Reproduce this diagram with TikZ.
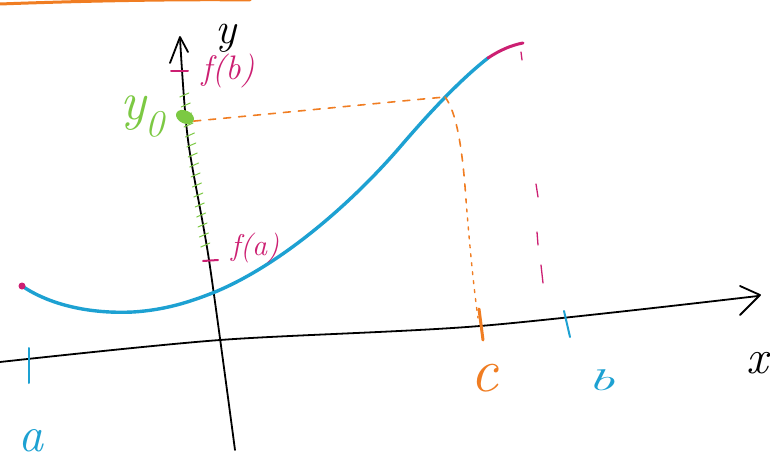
\documentclass[tikz,border=0pt]{standalone}
\usepackage{fontspec}
\usetikzlibrary{shapes.geometric}
\definecolor{hblue}{HTML}{1DA1D2}
\definecolor{hmag}{HTML}{CC1F72}
\definecolor{hgreen}{HTML}{7CC943}
\definecolor{horange}{HTML}{F07D22}
\begin{document}
\begin{tikzpicture}[x=1pt,y=-1pt,
  axis/.style={line width=1.8pt,line cap=round,line join=round,black},
  curve/.style={line width=3.4pt,line cap=round,hblue},
  magtick/.style={hmag,line width=2pt,line cap=round},
  magdash/.style={hmag,line width=1.3pt,line cap=round},
  guide/.style={horange,line width=1.6pt,line cap=round,dash pattern=on 7pt off 8pt},
  guidedot/.style={horange,line width=1.4pt,line cap=round,dash pattern=on 3pt off 6pt},
  hand/.style={inner sep=0pt,font=\fontsize{#1}{#1}\selectfont\itshape}]
\useasboundingbox (0,0) rectangle (770,462);
\fill[white] (0,0) rectangle (770,462);
% orange stroke at top
\draw[horange,line width=3pt,line cap=round] (0,4) .. controls (80,1) and (180,-1) .. (250,0);
% x axis
\coordinate (xtip) at (760,295);
\draw[axis] plot[smooth] coordinates {(0,362) (220,340) (480,326) (758,296)};
\draw[axis] (740,286) -- (xtip) -- (740,315);
% y axis
\coordinate (ytip) at (180,37);
\draw[axis] plot[smooth] coordinates {(180,38) (188,140) (209,260) (235,450)};
\draw[axis] (170,63) -- (ytip) -- (188,52);
% green ticks on y axis
\foreach \t in {0,...,15}{
  \pgfmathsetmacro\yy{96+10*\t}
  \pgfmathsetmacro\xx{188+(\yy-140)*0.14}
  \draw[hgreen,line width=1pt,line cap=round] (\xx-2,\yy+1) -- (\xx+7,\yy-3);
}
% magenta ticks on y axis
\draw[magtick] (171,71) -- (188,71);
\draw[magtick] (203,261) -- (218,260);
% blue curve
\draw[curve] (22,286) .. controls (50,305) and (90,314) .. (133,312)
  .. controls (165,310) and (190,302) .. (215,292)
  .. controls (280,265) and (350,205) .. (400,147)
  .. controls (430,112) and (460,80) .. (488,58);
\draw[hmag,line width=3pt,line cap=round] (488,58) .. controls (500,50) and (512,45) .. (523,43);
\fill[hmag] (22,286) circle (3.5);
% green point y0
\node[hgreen,fill=hgreen,ellipse,minimum width=19pt,minimum height=13pt,inner sep=0pt,rotate=-25] (y0dot) at (185,117) {};
% orange guide lines
\coordinate (corner) at (445,97);
\coordinate (cfoot) at (478,318);
\draw[guide] (y0dot.east) .. controls (290,112) and (390,102) .. (corner);
\draw[guide] (corner) .. controls (455,110) and (462,140) .. (466,200);
\draw[guidedot] (466,200) .. controls (470,250) and (474,290) .. (cfoot);
% magenta dashes on right
\draw[magdash] (521,52) -- (522,60);
\draw[magdash] (536,184) -- (538,197);
\draw[magdash] (537,232) -- (538,245);
\draw[magdash] (541,265) -- (543,283);
% ticks on x axis
\draw[hblue,line width=2pt,line cap=round] (29,348) -- (29,383);
\draw[hblue,line width=2pt,line cap=round] (564,311) -- (570,337);
\draw[horange,line width=3pt,line cap=round] (479,309) -- (483,340);
% labels
\node[hand=44,black,anchor=base] (ylab) at (226,44) {y};
\node[hand=34,hmag,anchor=base] (fb) at (228,80) {f(b)};
\node[hand=30,hmag,anchor=base] (fa) at (255,255) {f(a)};
\node[hand=54,hgreen,anchor=base west] (y0) at (120,120) {y\textsubscript{0}};
\node[hand=62,horange,anchor=base] (clab) at (484,391) {c};
\node[hand=30,hblue,anchor=base] (blab) at (601,390) {\scalebox{2}[1]{b}};
\node[hand=50,hblue,anchor=base] (alab) at (31,451) {a};
\node[hand=48,black,anchor=base] (xlab) at (757,373) {x};
\end{tikzpicture}
\end{document}
